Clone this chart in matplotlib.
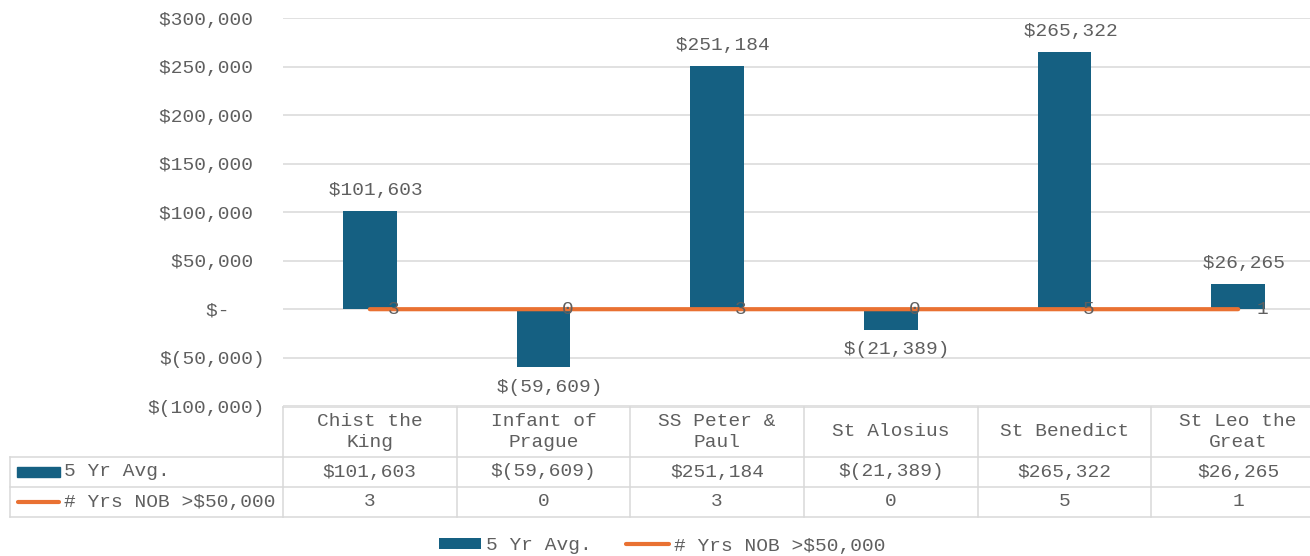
import matplotlib
matplotlib.use('Agg')
import matplotlib.pyplot as plt
from matplotlib.transforms import blended_transform_factory
from matplotlib.patches import Rectangle, Patch
from matplotlib.lines import Line2D

# ---------------- data ----------------
categories = ["Chist the\nKing", "Infant of\nPrague", "SS Peter &\nPaul",
              "St Alosius", "St Benedict", "St Leo the\nGreat"]
avg_values = [101603, -59609, 251184, -21389, 265322, 26265]
nob_years = [3, 0, 3, 0, 5, 1]
series_names = ["5 Yr Avg.", "# Yrs NOB >$50,000"]
y_ticks = [-100000, -50000, 0, 50000, 100000, 150000, 200000, 250000, 300000]

# ---------------- style ----------------
BLUE = '#156082'
ORANGE = '#E97132'
TXT = '#5f5f5f'
GRID = '#D9D9D9'
FS = 14

plt.rcParams['font.family'] = ['Liberation Mono', 'DejaVu Sans Mono']

W, H = 1310, 556
fig = plt.figure(figsize=(W / 100, H / 100), dpi=100)


def fx(p):
    return p / W


def fy(p):
    return 1 - p / H


def acct_tick(v):
    if v > 0:
        return f"${v:,.0f} "
    if v < 0:
        return f"$({-v:,.0f})"
    return "$-   "


def acct(v):
    if v < 0:
        return f"$({-v:,.0f})"
    if v == 0:
        return "$-"
    return f"${v:,.0f}"


left_px, right_px, top_px, bot_px = 283, 1325, 18.2, 406.2
ax = fig.add_axes([fx(left_px), fy(bot_px), (right_px - left_px) / W, (bot_px - top_px) / H])
x = list(range(len(categories)))

ax.bar(x, avg_values, width=0.31, color=BLUE, zorder=2)
ax.plot(x, nob_years, color=ORANGE, lw=3, solid_capstyle='round', zorder=3)

ax.set_xlim(-0.5, len(categories) - 0.5)
ax.set_ylim(y_ticks[0], y_ticks[-1])
ax.set_yticks(y_ticks)
ax.set_yticklabels([acct_tick(v) for v in y_ticks])
ax.set_xticks([])
ax.tick_params(axis='y', length=0, pad=13, labelsize=FS, labelcolor=TXT)
for s in ax.spines.values():
    s.set_visible(False)
ax.yaxis.grid(True, color=GRID, lw=1.1, zorder=0)
ax.set_axisbelow(True)

# data labels on bars
for xi, v in zip(x, avg_values):
    off = 20 if v >= 0 else -20
    ax.annotate(" " + acct(v), (xi, v), xytext=(0, off * 0.72), textcoords='offset points',
                ha='center', va='center', fontsize=FS, color=TXT, zorder=4)

# data labels on line
for xi, n in zip(x, nob_years):
    ax.annotate(str(n), (xi, n), xytext=(13, 0), textcoords='offset points',
                ha='left', va='center', fontsize=FS, color=TXT, zorder=4)

# ---------------- data table ----------------
bt = blended_transform_factory(ax.transData, fig.transFigure)
tlw = 1.1
row_y = [407, 457, 487, 517]
xmax = len(categories) - 0.5
# horizontal lines
ax.add_line(Line2D([-0.5, xmax], [fy(407), fy(407)], transform=bt, color=GRID, lw=tlw, clip_on=False))
for yy in row_y[1:]:
    fig.add_artist(Line2D([fx(10), fx(left_px)], [fy(yy), fy(yy)], transform=fig.transFigure,
                          color=GRID, lw=tlw))
    ax.add_line(Line2D([-0.5, xmax], [fy(yy), fy(yy)], transform=bt, color=GRID, lw=tlw, clip_on=False))
# vertical lines
fig.add_artist(Line2D([fx(10), fx(10)], [fy(457), fy(517)], transform=fig.transFigure, color=GRID, lw=tlw))
for i in range(len(categories) + 1):
    ax.add_line(Line2D([i - 0.5, i - 0.5], [fy(407), fy(517)], transform=bt, color=GRID, lw=tlw, clip_on=False))

for xi, cat, v, n in zip(x, categories, avg_values, nob_years):
    ax.text(xi, fy(432), cat, transform=bt, ha='center', va='center', fontsize=FS,
            color=TXT, linespacing=1.25, multialignment='center', clip_on=False)
    ax.text(xi, fy(472), acct(v), transform=bt, ha='center', va='center', fontsize=FS,
            color=TXT, clip_on=False)
    ax.text(xi, fy(502), str(n), transform=bt, ha='center', va='center', fontsize=FS,
            color=TXT, clip_on=False)

# row headers with legend keys
fig.add_artist(Rectangle((fx(17), fy(477)), fx(60) - fx(17), fy(467) - fy(477),
                         transform=fig.transFigure, color=BLUE))
fig.add_artist(Line2D([fx(18), fx(59)], [fy(501.5), fy(501.5)], transform=fig.transFigure,
                      color=ORANGE, lw=3, solid_capstyle='round'))
fig.text(fx(64), fy(472), series_names[0], ha='left', va='center', fontsize=FS, color=TXT)
fig.text(fx(64), fy(502), series_names[1], ha='left', va='center', fontsize=FS, color=TXT)

# ---------------- legend ----------------
handles = [Patch(facecolor=BLUE, edgecolor='none'),
           Line2D([0], [0], color=ORANGE, lw=3, solid_capstyle='round')]
fig.legend(handles, series_names, loc='center', bbox_to_anchor=(fx(662), fy(546)),
           ncol=2, frameon=False, fontsize=FS, labelcolor=TXT,
           handlelength=2.2, handleheight=0.46, handletextpad=0.26, columnspacing=1.75,
           borderpad=0)

fig.savefig('out.png', dpi=100)
